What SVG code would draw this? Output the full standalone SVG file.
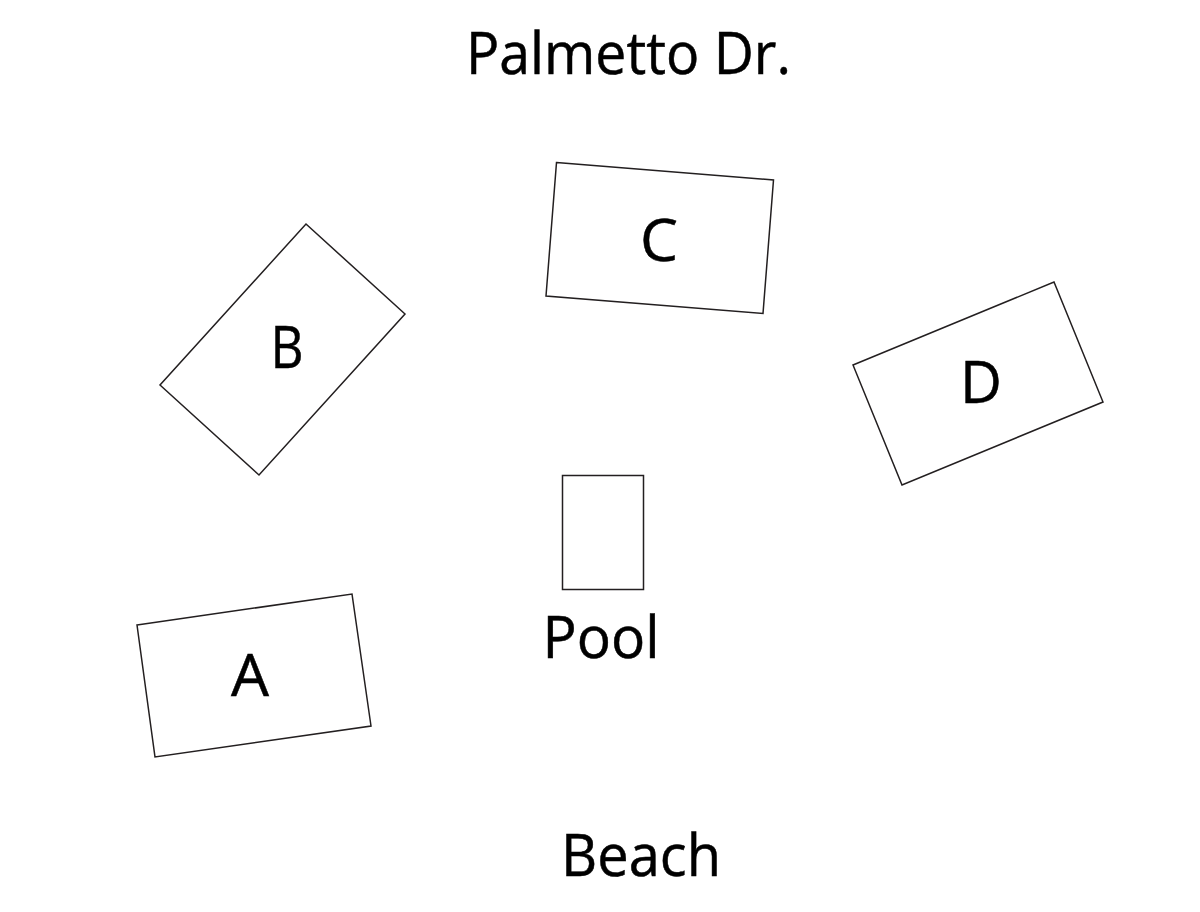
<svg xmlns="http://www.w3.org/2000/svg" width="1200" height="912" viewBox="0 0 1200 912">
<style>
.b{fill:#fff;stroke:#231f20;stroke-width:1.5}
text{font-family:"Open Sans","Noto Sans","Liberation Sans",sans-serif;font-size:58px;fill:#000;text-anchor:middle;stroke:#000;stroke-width:.5}
</style>
<rect width="1200" height="912" fill="#fff"/>
<text x="628.500" y="74" textLength="325" lengthAdjust="spacingAndGlyphs">Palmetto Dr.</text>
<g id="C"><polygon class="b" points="556.500,162.500 773.500,180 763,313.500 546,296"/><text x="659" y="261" textLength="38" lengthAdjust="spacingAndGlyphs">C</text></g>
<g id="B"><polygon class="b" points="306,224 405,314 259,475 160,385"/><text x="287" y="368" textLength="33" lengthAdjust="spacingAndGlyphs">B</text></g>
<g id="D"><polygon class="b" points="853,365 1054,282 1103,402 902,485"/><text x="981" y="403" textLength="42" lengthAdjust="spacingAndGlyphs">D</text></g>
<g id="Pool"><rect class="b" x="562.500" y="475.500" width="81" height="114"/><text x="601" y="658" textLength="117" lengthAdjust="spacingAndGlyphs">Pool</text></g>
<g id="A"><polygon class="b" points="137,625 352,594 371,726 155,757"/><text x="250" y="696" textLength="38" lengthAdjust="spacingAndGlyphs">A</text></g>
<text x="641" y="876" textLength="160" lengthAdjust="spacingAndGlyphs">Beach</text>
</svg>
